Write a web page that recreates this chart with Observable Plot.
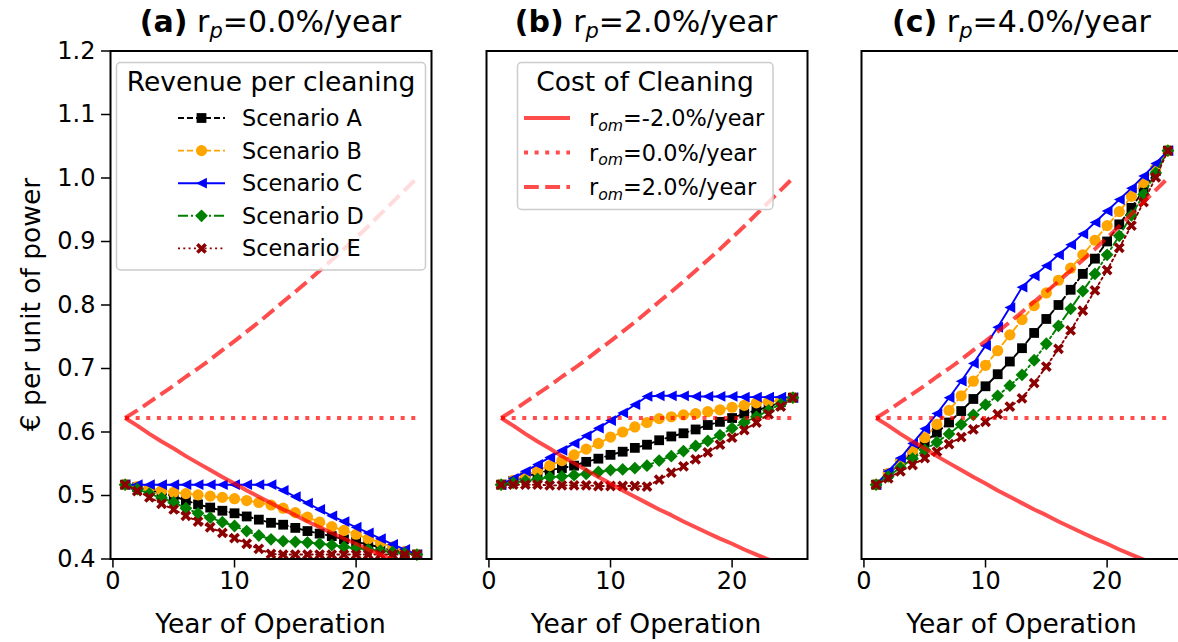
<!DOCTYPE html>
<html>
<head>
<meta charset="utf-8">
<script src="https://cdn.jsdelivr.net/npm/d3@7"></script>
<script src="https://cdn.jsdelivr.net/npm/@observablehq/plot@0.6"></script>
<style>
  html, body { margin: 0; padding: 0; background: #fff; overflow: hidden; }
  #fig { position: relative; width: 1178px; height: 642px; overflow: hidden; background: #fff; }
  #fig > svg { position: absolute; top: 0; }
</style>
</head>
<body>
<div id="fig"></div>
<script>
// ---- data ---------------------------------------------------------------
const years = [1,2,3,4,5,6,7,8,9,10,11,12,13,14,15,16,17,18,19,20,21,22,23,24,25];
const xTicks = [0, 10, 20];
const yTicks = [0.4, 0.5, 0.6, 0.7, 0.8, 0.9, 1.0, 1.1, 1.2];

// cost of one cleaning, per unit of power, for three O&M escalation rates
const costRomMinus2 = [0.622,0.610,0.597,0.585,0.574,0.562,0.551,0.540,0.529,0.519,0.508,0.498,0.488,0.478,0.469,0.459,0.450,0.441,0.432,0.424,0.415,0.407,0.399,0.391,0.383];
const costRom0      = [0.622,0.622,0.622,0.622,0.622,0.622,0.622,0.622,0.622,0.622,0.622,0.622,0.622,0.622,0.622,0.622,0.622,0.622,0.622,0.622,0.622,0.622,0.622,0.622,0.622];
const costRomPlus2  = [0.622,0.634,0.647,0.660,0.673,0.687,0.700,0.714,0.729,0.743,0.758,0.773,0.789,0.805,0.821,0.837,0.854,0.871,0.888,0.906,0.924,0.943,0.962,0.981,1.000];

// revenue per cleaning, r_p = 0.0 %/year
const revA_rp0 = [0.517,0.513,0.509,0.504,0.499,0.492,0.486,0.481,0.476,0.472,0.467,0.462,0.457,0.454,0.449,0.444,0.440,0.436,0.431,0.427,0.423,0.418,0.414,0.410,0.407];
const revB_rp0 = [0.517,0.514,0.511,0.508,0.505,0.503,0.501,0.499,0.497,0.495,0.492,0.489,0.485,0.480,0.473,0.466,0.458,0.451,0.445,0.439,0.432,0.426,0.419,0.412,0.407];
const revC_rp0 = [0.517,0.517,0.517,0.517,0.517,0.517,0.517,0.517,0.517,0.517,0.517,0.517,0.517,0.508,0.498,0.488,0.478,0.468,0.459,0.450,0.441,0.432,0.423,0.415,0.407];
const revD_rp0 = [0.517,0.510,0.503,0.496,0.489,0.480,0.472,0.465,0.458,0.452,0.444,0.437,0.431,0.428,0.427,0.426,0.424,0.422,0.419,0.417,0.415,0.413,0.411,0.409,0.407];
const revE_rp0 = [0.517,0.507,0.497,0.487,0.478,0.468,0.459,0.450,0.441,0.433,0.424,0.416,0.408,0.407,0.407,0.407,0.407,0.407,0.407,0.407,0.407,0.407,0.407,0.407,0.407];

// revenue per cleaning, r_p = 2.0 %/year
const revA_rp2 = [0.517,0.523,0.530,0.535,0.540,0.543,0.547,0.553,0.558,0.564,0.569,0.575,0.580,0.587,0.593,0.598,0.604,0.611,0.616,0.622,0.629,0.634,0.640,0.647,0.654];
const revB_rp2 = [0.517,0.524,0.532,0.539,0.547,0.555,0.564,0.573,0.582,0.592,0.600,0.608,0.615,0.621,0.624,0.627,0.629,0.632,0.635,0.639,0.642,0.646,0.648,0.650,0.654];
const revC_rp2 = [0.517,0.527,0.538,0.549,0.560,0.571,0.582,0.594,0.606,0.618,0.630,0.643,0.656,0.657,0.657,0.657,0.656,0.656,0.656,0.656,0.655,0.655,0.655,0.655,0.654];
const revD_rp2 = [0.517,0.520,0.523,0.526,0.529,0.530,0.532,0.534,0.537,0.540,0.541,0.543,0.547,0.555,0.562,0.570,0.578,0.586,0.595,0.606,0.615,0.624,0.634,0.644,0.654];
const revE_rp2 = [0.517,0.517,0.517,0.517,0.516,0.516,0.516,0.516,0.515,0.515,0.515,0.515,0.514,0.525,0.536,0.546,0.557,0.568,0.580,0.591,0.603,0.615,0.628,0.640,0.654];

// revenue per cleaning, r_p = 4.0 %/year
const revA_rp4 = [0.517,0.534,0.551,0.567,0.584,0.599,0.615,0.633,0.652,0.672,0.691,0.711,0.732,0.756,0.778,0.800,0.824,0.849,0.873,0.900,0.927,0.953,0.981,1.011,1.043];
const revB_rp4 = [0.517,0.535,0.553,0.571,0.591,0.612,0.634,0.657,0.680,0.705,0.728,0.753,0.777,0.799,0.819,0.839,0.858,0.879,0.902,0.925,0.947,0.971,0.993,1.016,1.043];
const revC_rp4 = [0.517,0.538,0.559,0.582,0.605,0.629,0.654,0.680,0.708,0.736,0.765,0.796,0.828,0.846,0.862,0.879,0.895,0.912,0.930,0.948,0.966,0.984,1.003,1.023,1.043];
const revD_rp4 = [0.517,0.530,0.544,0.558,0.572,0.584,0.597,0.612,0.627,0.643,0.657,0.673,0.690,0.713,0.739,0.767,0.794,0.822,0.849,0.879,0.909,0.941,0.974,1.008,1.043];
const revE_rp4 = [0.517,0.527,0.538,0.548,0.559,0.569,0.581,0.592,0.604,0.616,0.628,0.640,0.653,0.677,0.703,0.731,0.760,0.791,0.823,0.855,0.890,0.925,0.962,1.001,1.043];

const panelLetters = ["(a)", "(b)", "(c)"];
const panelRates = ["0.0", "2.0", "4.0"];
const scenarioNames = ["Scenario A", "Scenario B", "Scenario C", "Scenario D", "Scenario E"];
const costNames = ["-2.0", "0.0", "2.0"];

const revenueByPanel = [
  [revA_rp0, revB_rp0, revC_rp0, revD_rp0, revE_rp0],
  [revA_rp2, revB_rp2, revC_rp2, revD_rp2, revE_rp2],
  [revA_rp4, revB_rp4, revC_rp4, revD_rp4, revE_rp4]
];
const costSeries = [costRomMinus2, costRom0, costRomPlus2];

// ---- marker shapes --------------------------------------------------------
const half = size => Math.sqrt(size / Math.PI);
const squareMark = { draw(c, s) { const r = half(s); c.moveTo(-r, -r); c.lineTo(r, -r); c.lineTo(r, r); c.lineTo(-r, r); c.closePath(); } };
const circleMark = { draw(c, s) { const r = half(s); c.moveTo(r, 0); c.arc(0, 0, r, 0, 2 * Math.PI); c.closePath(); } };
const leftTriMark = { draw(c, s) { const r = half(s); c.moveTo(-r, 0); c.lineTo(r, -r); c.lineTo(r, r); c.closePath(); } };
const diamondMark = { draw(c, s) { const r = half(s); c.moveTo(0, -r); c.lineTo(r, 0); c.lineTo(0, r); c.lineTo(-r, 0); c.closePath(); } };
const crossMark = { draw(c, s) {
  const r = half(s) * 1.25, t = r * 0.3, k = Math.SQRT1_2;
  const pts = [[t, r], [t, t], [r, t], [r, -t], [t, -t], [t, -r], [-t, -r], [-t, -t], [-r, -t], [-r, t], [-t, t], [-t, r]]
    .map(([x, y]) => [(x - y) * k, (x + y) * k]);
  c.moveTo(pts[0][0], pts[0][1]);
  for (let i = 1; i < pts.length; i++) c.lineTo(pts[i][0], pts[i][1]);
  c.closePath();
} };

const scenarioStyle = [
  { color: "black",   dash: "6,3",      symbol: squareMark,  r: 4.9 },
  { color: "orange",  dash: "6,3",      symbol: circleMark,  r: 5.6 },
  { color: "blue",    dash: null,       symbol: leftTriMark, r: 5.4 },
  { color: "green",   dash: "10,3,2,3", symbol: diamondMark, r: 6.4 },
  { color: "darkred", dash: "2,3.3",    symbol: crossMark,   r: 4.7 }
];
const costStyle = [
  { dash: null },
  { dash: "4,6.6" },
  { dash: "14.8,6.4" }
];

// ---- layout ---------------------------------------------------------------
const frameLeft = [110, 485.5, 861];
const frameWidth = 321;
const frameTop = 50.5;
const frameBottom = 558.5;
const H = 642;
const fig = document.getElementById("fig");
const FONT = "DejaVu Sans, sans-serif";

revenueByPanel.forEach((revs, p) => {
  const ml = p === 0 ? 110 : 12, mr = 12;
  const marks = [];
  revs.forEach((vals, k) => {
    const st = scenarioStyle[k];
    const rows = years.map((year, i) => ({ year, value: vals[i] }));
    marks.push(Plot.line(rows, { x: "year", y: "value", stroke: st.color, strokeWidth: 1.9, strokeDasharray: st.dash }));
    marks.push(Plot.dot(rows, { x: "year", y: "value", symbol: st.symbol, r: st.r, fill: st.color, stroke: "none" }));
  });
  costSeries.forEach((vals, k) => {
    const rows = years.map((year, i) => ({ year, value: vals[i] }));
    marks.push(Plot.line(rows, { x: "year", y: "value", stroke: "red", strokeOpacity: 0.7, strokeWidth: 4,
      strokeDasharray: costStyle[k].dash, strokeLinecap: "butt", clip: true }));
  });
  marks.push(Plot.frame({ stroke: "black", strokeWidth: 2 }));
  marks.push(Plot.axisX({ ticks: xTicks, tickSize: 9, tickPadding: 4, fontSize: 24, label: null, strokeWidth: 1.5 }));
  if (p === 0) {
    marks.push(Plot.axisY({ ticks: yTicks, tickFormat: d => d.toFixed(1), tickSize: 9, tickPadding: 6,
      fontSize: 24, label: null, strokeWidth: 1.5 }));
  }
  const chart = Plot.plot({
    width: ml + frameWidth + mr,
    height: H,
    marginLeft: ml, marginRight: mr, marginTop: frameTop, marginBottom: H - frameBottom,
    x: { domain: [-0.2, 26.2], axis: null },
    y: { domain: [0.4, 1.2], axis: null },
    style: { background: "transparent", color: "black", fontFamily: FONT, maxWidth: "none", overflow: "visible" },
    marks
  });
  chart.style.left = (frameLeft[p] - ml) + "px";
  fig.appendChild(chart);
});

// ---- titles, axis labels and legends ---------------------------------------
const ov = d3.select(fig).append("svg")
  .attr("width", 1178).attr("height", H)
  .style("left", "0px").style("pointer-events", "none")
  .attr("font-family", FONT).attr("fill", "black");

panelLetters.forEach((letter, p) => {
  const cx = frameLeft[p] + frameWidth / 2;
  const t = ov.append("text").attr("x", cx).attr("y", 32).attr("text-anchor", "middle").attr("font-size", 30);
  t.append("tspan").attr("font-weight", "bold").text(letter);
  t.append("tspan").text(" r");
  t.append("tspan").attr("font-style", "italic").attr("font-size", 21).attr("dy", 6).text("p");
  t.append("tspan").attr("dy", -6).text("=" + panelRates[p] + "%/year");
  ov.append("text").attr("x", cx).attr("y", 633).attr("text-anchor", "middle").attr("font-size", 26.5).text("Year of Operation");
});
ov.append("text").attr("transform", "translate(40,304.5) rotate(-90)")
  .attr("text-anchor", "middle").attr("font-size", 26.5).text("€ per unit of power");

function legendBox(x, y, w, h) {
  ov.append("rect").attr("x", x).attr("y", y).attr("width", w).attr("height", h).attr("rx", 4)
    .attr("fill", "white").attr("fill-opacity", 0.8).attr("stroke", "#cccccc").attr("stroke-width", 1.5);
}

// revenue legend in panel (a)
legendBox(116.5, 62.5, 309, 207.5);
ov.append("text").attr("x", 271).attr("y", 91).attr("text-anchor", "middle").attr("font-size", 26.5).text("Revenue per cleaning");
scenarioNames.forEach((name, k) => {
  const st = scenarioStyle[k];
  const base = 126 + k * 32.6, ym = base - 8;
  ov.append("line").attr("x1", 178).attr("x2", 225).attr("y1", ym).attr("y2", ym)
    .attr("stroke", st.color).attr("stroke-width", 1.9).attr("stroke-dasharray", st.dash);
  ov.append("path").attr("transform", `translate(201.5,${ym})`)
    .attr("d", d3.symbol(st.symbol, Math.PI * st.r * st.r)()).attr("fill", st.color);
  ov.append("text").attr("x", 242).attr("y", base).attr("font-size", 22.4).text(name);
});

// cost legend in panel (b)
legendBox(517.5, 62.5, 255.5, 147);
ov.append("text").attr("x", 645).attr("y", 91).attr("text-anchor", "middle").attr("font-size", 26.5).text("Cost of Cleaning");
costNames.forEach((rate, k) => {
  const base = 126 + k * 34.5, ym = base - 8;
  ov.append("line").attr("x1", 524).attr("x2", 570).attr("y1", ym).attr("y2", ym)
    .attr("stroke", "red").attr("stroke-opacity", 0.7).attr("stroke-width", 4)
    .attr("stroke-dasharray", costStyle[k].dash);
  const t = ov.append("text").attr("x", 589).attr("y", base).attr("font-size", 22.4);
  t.append("tspan").text("r");
  t.append("tspan").attr("font-style", "italic").attr("font-size", 15.7).attr("dy", 4.5).text("om");
  t.append("tspan").attr("dy", -4.5).text("=" + rate + "%/year");
});
</script>
</body>
</html>
